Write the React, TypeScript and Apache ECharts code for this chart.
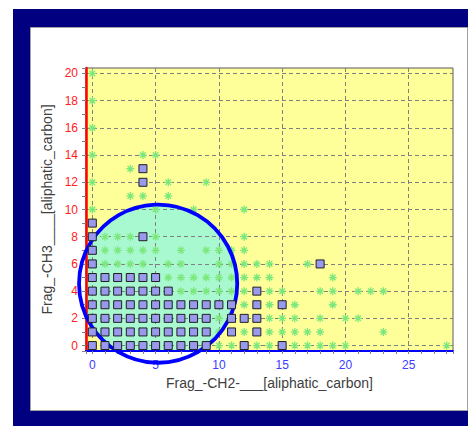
import React, { useEffect, useRef } from "react";
import * as echarts from "echarts";

// ---- data ----
const xName = "Frag_-CH2-___[aliphatic_carbon]";
const yName = "Frag_-CH3____[aliphatic_carbon]";
const xRange = [-0.5, 28.5];
const yRange = [-0.4, 20.4];

// purple squares, grouped by row (y) -> list of x
const squareRowY = [13, 12, 9, 8, 7, 6, 5, 4, 3, 2, 1, 0];
const squareRowX = [
  [4],
  [4],
  [0],
  [0, 4],
  [0],
  [0, 18],
  [0, 1, 2, 3, 4, 5],
  [0, 1, 2, 3, 4, 5, 6, 13],
  [0, 1, 2, 3, 4, 5, 6, 7, 8, 9, 10, 11, 13, 15],
  [0, 1, 2, 3, 4, 5, 6, 7, 8, 9, 11, 12, 13],
  [0, 1, 2, 3, 4, 5, 6, 7, 8, 9, 11, 13],
  [0, 1, 2, 3, 4, 5, 6, 7, 8, 9, 12, 15],
];

// green asterisks, grouped by row (y) -> list of x
const starRowY = [20, 18, 16, 14, 13, 12, 11, 10, 8, 7, 6, 5, 4, 3, 2, 1, 0];
const starRowX = [
  [0],
  [0],
  [0],
  [0, 4, 5],
  [3],
  [0, 6, 9],
  [3, 4, 6],
  [0, 5, 8, 12],
  [1, 2, 3, 5, 12],
  [1, 2, 3, 4, 5, 7, 9, 10, 11, 12],
  [1, 2, 3, 4, 6, 7, 10, 11, 12, 13, 14, 17],
  [6, 7, 8, 9, 10, 11, 12, 13, 14, 19],
  [7, 8, 9, 10, 11, 12, 14, 15, 18, 19, 21, 22, 23],
  [12, 14, 16, 19],
  [10, 14, 15, 16, 18, 20, 21],
  [10, 12, 14, 15, 16, 17, 18, 23],
  [10, 11, 13, 14, 16, 17, 18, 19, 20, 28],
];

// selection circle: centre (x, y) and radius in x-axis units
const circleData = [[5.2, 4.55, 6.25]];

function flatten(rowsY: number[], rowsX: number[][]): number[][] {
  const out: number[][] = [];
  rowsY.forEach((y, i) => rowsX[i].forEach((x) => out.push([x, y])));
  return out;
}

const FONT = "'Liberation Sans', Arial, sans-serif";
const STAR =
  "path://M5,0L5,10M0,5L10,5M1.5,1.5L8.5,8.5M1.5,8.5L8.5,1.5";

const intLabel = (v: number) =>
  Math.abs(v - Math.round(v)) < 1e-9 ? String(Math.round(v)) : "";

export default function App() {
  const ref = useRef<HTMLDivElement>(null);
  useEffect(() => {
    if (!ref.current) return;
    const chart = echarts.init(ref.current, undefined, { renderer: "svg" });
    const option: any = {
      animation: false,
      backgroundColor: "#ffffff",
      graphic: [
        {
          type: "rect",
          z: -10,
          silent: true,
          shape: { x: 13, y: 9, width: 455, height: 417 },
          style: { fill: "#000080" },
        },
        {
          type: "rect",
          z: -9,
          silent: true,
          shape: { x: 30.5, y: 27.5, width: 437, height: 383 },
          style: { fill: "#ffffff", stroke: "#a0a0a0", lineWidth: 1 },
        },
      ],
      grid: {
        left: 86,
        top: 68,
        width: 367,
        height: 283,
        show: true,
        backgroundColor: "#ffff99",
        borderColor: "#5a5a5a",
        borderWidth: 1,
        containLabel: false,
      },
      xAxis: {
        type: "value",
        min: xRange[0],
        max: xRange[1],
        splitNumber: 5,
        name: xName,
        nameLocation: "middle",
        nameGap: 25,
        nameTextStyle: { color: "#404040", fontSize: 14, fontFamily: FONT },
        axisLine: { onZero: false, lineStyle: { color: "#0000ff", width: 2 } },
        axisTick: { show: true, length: 3, lineStyle: { color: "#808080" } },
        minorTick: {
          show: true,
          splitNumber: 5,
          length: 3,
          lineStyle: { color: "#808080" },
        },
        axisLabel: {
          color: "#3c3cff",
          fontSize: 12,
          fontFamily: FONT,
          margin: 8,
          formatter: intLabel,
        },
        splitLine: {
          show: true,
          showMinLine: false,
          showMaxLine: false,
          lineStyle: { color: "#808080", type: [4, 3], width: 1 },
        },
      },
      yAxis: {
        type: "value",
        min: yRange[0],
        max: yRange[1],
        splitNumber: 10,
        name: yName,
        nameLocation: "middle",
        nameGap: 25,
        nameTextStyle: { color: "#404040", fontSize: 14, fontFamily: FONT },
        axisLine: { onZero: false, lineStyle: { color: "#ff0000", width: 2.5 } },
        axisTick: { show: true, length: 4, lineStyle: { color: "#808080" } },
        minorTick: {
          show: true,
          splitNumber: 2,
          length: 4,
          lineStyle: { color: "#808080" },
        },
        axisLabel: {
          color: "#ff2020",
          fontSize: 12,
          fontFamily: FONT,
          margin: 8,
          formatter: intLabel,
        },
        splitLine: {
          show: true,
          showMinLine: false,
          showMaxLine: false,
          lineStyle: { color: "#808080", type: [4, 3], width: 1 },
        },
      },
      series: [
        {
          type: "custom",
          name: "circleFill",
          z: 0,
          clip: true,
          silent: true,
          data: circleData,
          encode: { x: 0, y: 1 },
          renderItem: (_p: any, api: any) => {
            const c = api.coord([api.value(0), api.value(1)]);
            const r = api.size([api.value(2), 0])[0];
            return {
              type: "circle",
              z2: -0.5,
              shape: { cx: c[0], cy: c[1], r },
              style: { fill: "#a8f8d0" },
            };
          },
        },
        {
          type: "scatter",
          name: "stars",
          z: 2,
          symbol: STAR,
          symbolSize: 8,
          data: flatten(starRowY, starRowX),
          itemStyle: {
            color: "rgba(0,0,0,0)",
            borderColor: "#7ce87c",
            borderWidth: 1.3,
            opacity: 1,
          },
        },
        {
          type: "custom",
          name: "circleStroke",
          z: 3,
          clip: false,
          silent: true,
          data: circleData,
          encode: { x: 0, y: 1 },
          renderItem: (_p: any, api: any) => {
            const c = api.coord([api.value(0), api.value(1)]);
            const r = api.size([api.value(2), 0])[0];
            return {
              type: "circle",
              shape: { cx: c[0], cy: c[1], r },
              style: { fill: "none", stroke: "#0000ff", lineWidth: 3.8 },
            };
          },
        },
        {
          type: "scatter",
          name: "squares",
          z: 4,
          symbol: "rect",
          symbolSize: 8,
          data: flatten(squareRowY, squareRowX),
          itemStyle: {
            color: "#9999ee",
            borderColor: "#202020",
            borderWidth: 1,
            opacity: 1,
          },
        },
      ],
    };
    chart.setOption(option);
    return () => chart.dispose();
  }, []);
  return (
    <div
      ref={ref}
      style={{ position: "absolute", left: 0, top: 0, width: 468, height: 426 }}
    />
  );
}
